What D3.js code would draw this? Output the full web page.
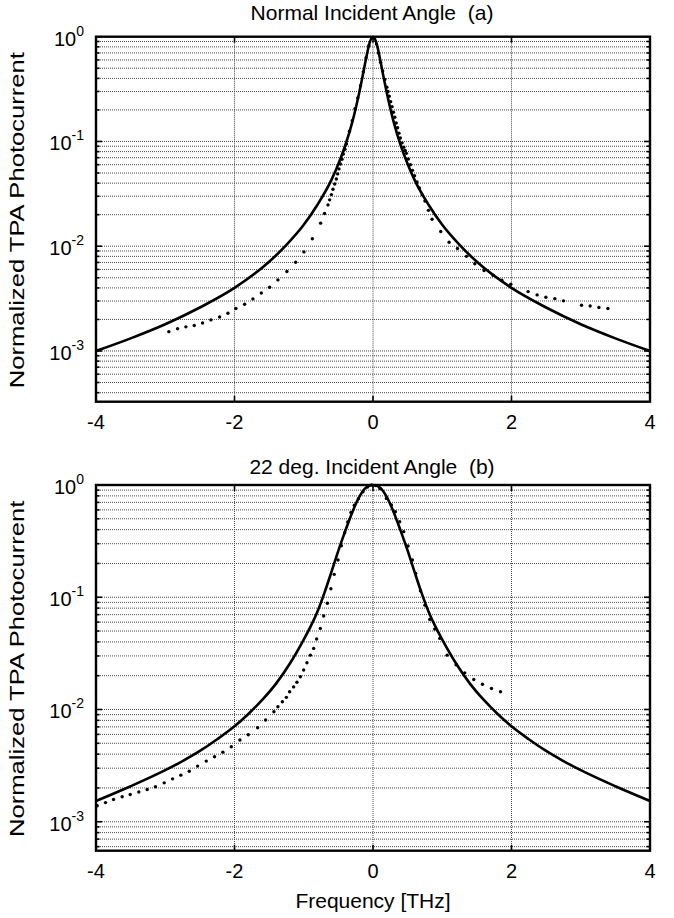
<!DOCTYPE html>
<html><head><meta charset="utf-8">
<script src="https://cdn.jsdelivr.net/npm/d3@7/dist/d3.min.js"></script>
<style>
body{margin:0;background:#fff}
text{font-family:"Liberation Sans",Arial,Helvetica,sans-serif;fill:#000;white-space:pre}
</style>
</head><body>
<svg id="c" width="674" height="918"></svg>
<script>
// ---------- data ----------
const xTicks = [-4, -2, 0, 2, 4];
const yTickExps = [0, -1, -2, -3];
const titleA = "Normal Incident Angle  (a)";
const titleB = "22 deg. Incident Angle  (b)";
const xLabel = "Frequency [THz]";
const yLabel = "Normalized TPA Photocurrent";

// solid fit curve, panel (a)
const fitAX = [-4,-3.5,-3,-2.5,-2,-1.5,-1.25,-1,-0.8,-0.6,-0.5,-0.4,-0.3,-0.2,-0.15,-0.1,-0.05,0,
               0.05,0.1,0.15,0.2,0.3,0.4,0.5,0.6,0.8,1,1.25,1.5,2,2.5,3,3.5,4];
const fitAY = [1.0e-3,1.32e-3,1.8e-3,2.6e-3,4.0e-3,7.1e-3,1.03e-2,1.6e-2,2.5e-2,4.3e-2,6.1e-2,9.2e-2,0.152,0.29,0.42,0.62,0.87,1.0,
               0.87,0.62,0.42,0.29,0.152,9.2e-2,6.1e-2,4.3e-2,2.5e-2,1.6e-2,1.03e-2,7.1e-3,4.0e-3,2.6e-3,1.8e-3,1.32e-3,1.0e-3];

// measured dots, panel (a)
const dotAX = [-2.948,-2.822,-2.702,-2.581,-2.461,-2.341,-2.215,-2.095,-1.980,-1.854,-1.734,-1.613,-1.493,-1.373,-1.243,-1.117,-0.997,-0.876,-0.756,-0.700,
               -0.650,-0.626,-0.601,-0.578,-0.553,-0.529,-0.510,-0.491,-0.471,-0.448,-0.428,-0.405,-0.384,
               -0.34,-0.30,-0.26,-0.22,-0.18,-0.14,-0.10,-0.06,-0.02,
               0.02,0.05,0.08,0.11,0.14,0.17,0.20,0.217,0.235,0.255,0.275,0.295,0.315,0.335,0.355,0.375,0.395,0.42,0.445,0.465,0.482,
               0.51,0.54,0.57,0.60,0.635,0.67,0.71,0.75,0.80,0.853,0.978,1.099,1.22,1.35,1.47,1.604,1.734,1.860,1.990,
               2.240,2.370,2.496,2.626,2.751,3.011,3.136,3.262,3.392];
const dotAY = [1.53e-3,1.63e-3,1.70e-3,1.75e-3,1.85e-3,1.98e-3,2.11e-3,2.29e-3,2.54e-3,2.79e-3,3.14e-3,3.58e-3,4.06e-3,4.77e-3,5.73e-3,7.03e-3,8.83e-3,1.18e-2,1.66e-2,2.05e-2,
               0.0248,0.0277,0.0311,0.0350,0.0393,0.0438,0.0490,0.0547,0.0610,0.0676,0.0760,0.0843,0.0946,
               0.125,0.158,0.205,0.26,0.34,0.46,0.63,0.82,0.97,
               0.96,0.85,0.70,0.57,0.47,0.39,0.33,0.30,0.27,0.24,0.215,0.19,0.17,0.15,0.135,0.12,0.108,0.097,0.088,0.082,0.077,
               0.068,0.060,0.053,0.047,0.041,0.036,0.031,0.027,0.022,0.0181,0.0138,0.0109,0.0095,0.0080,0.0068,5.85e-3,5.28e-3,4.73e-3,4.34e-3,
               3.69e-3,3.43e-3,3.26e-3,3.16e-3,3.01e-3,2.73e-3,2.69e-3,2.60e-3,2.54e-3];

// solid fit curve, panel (b)
const fitBX = [-4,-3.5,-3,-2.75,-2.5,-2.25,-2,-1.8,-1.6,-1.4,-1.2,-1,-0.9,-0.8,-0.7,-0.6,-0.5,-0.4,-0.3,-0.2,-0.1,0,
               0.1,0.2,0.3,0.4,0.5,0.6,0.7,0.8,0.9,1,1.2,1.4,1.6,1.8,2,2.25,2.5,2.75,3,3.5,4];
const fitBY = [1.53e-3,2.07e-3,2.88e-3,3.47e-3,4.27e-3,5.43e-3,7.08e-3,9.12e-3,1.216e-2,1.70e-2,2.57e-2,4.2e-2,5.5e-2,7.5e-2,0.11,0.168,0.26,0.39,0.57,0.78,0.95,1.0,
               0.95,0.78,0.57,0.39,0.26,0.168,0.11,7.5e-2,5.5e-2,4.2e-2,2.57e-2,1.70e-2,1.216e-2,9.12e-3,7.08e-3,5.43e-3,4.27e-3,3.47e-3,2.88e-3,2.07e-3,1.53e-3];

// measured dots, panel (b)
const dotBX = [-3.983,-3.863,-3.747,-3.622,-3.506,-3.382,-3.261,-3.141,-3.015,-2.895,-2.775,-2.653,-2.533,-2.408,-2.288,-2.168,-2.046,-1.922,-1.801,-1.666,
               -1.551,-1.431,-1.373,-1.309,-1.251,-1.204,-1.146,-1.098,-1.049,-1.001,-0.954,-0.905,-0.857,-0.814,-0.760,-0.712,-0.659,-0.608,-0.560,-0.505,
               -0.457,-0.409,-0.365,-0.318,-0.270,-0.210,-0.145,-0.080,-0.020,0.040,0.100,
               0.193,0.266,0.323,0.386,0.444,0.506,0.569,0.617,0.685,0.750,0.819,0.890,0.964,1.070,1.200,1.325,1.455,1.581,1.711,1.841];
const dotBY = [1.39e-3,1.48e-3,1.58e-3,1.67e-3,1.75e-3,1.84e-3,1.94e-3,2.05e-3,2.22e-3,2.41e-3,2.60e-3,2.82e-3,3.13e-3,3.47e-3,3.79e-3,4.17e-3,4.66e-3,5.34e-3,5.95e-3,6.87e-3,
               8.05e-3,9.55e-3,1.057e-2,1.172e-2,1.283e-2,1.44e-2,1.59e-2,1.75e-2,1.96e-2,2.25e-2,2.61e-2,3.05e-2,3.50e-2,4.24e-2,5.28e-2,6.8e-2,8.83e-2,0.119,0.160,0.215,
               0.288,0.376,0.468,0.570,0.660,0.755,0.872,0.960,1.0,0.99,0.93,
               0.760,0.663,0.578,0.471,0.384,0.286,0.215,0.163,0.114,0.085,0.0635,0.052,0.043,0.0305,0.025,0.0212,0.0185,0.0168,0.0154,0.0144];

// ---------- drawing ----------
const svg = d3.select("#c");
const L = 96, R = 650;
const panels = [
  {top: 36.7, bottom: 401.7, yMin: 3.28e-4, fx: fitAX, fy: fitAY, dx: dotAX, dy: dotAY, title: titleA, titleY: 20},
  {top: 485, bottom: 850.7, yMin: 5.52e-4, fx: fitBX, fy: fitBY, dx: dotBX, dy: dotBY, title: titleB, titleY: 474}
];

panels.forEach((p, pi) => {
  const x = d3.scaleLinear().domain([-4, 4]).range([L, R]);
  const y = d3.scaleLog().domain([p.yMin, 1]).range([p.bottom, p.top]);
  const g = svg.append("g");

  const gridY = [];
  for (let e = -4; e <= 0; e++) for (let k = 1; k <= 9; k++) {
    const v = k * Math.pow(10, e);
    if (v >= p.yMin * 0.999 && v <= 1.0001) gridY.push(v);
  }
  g.selectAll(".hg").data(gridY).enter().append("line")
    .attr("x1", L).attr("x2", R).attr("y1", d => y(d)).attr("y2", d => y(d))
    .attr("stroke", "#4a4a4a").attr("stroke-width", 1).attr("stroke-dasharray", "1,1");
  g.selectAll(".vg").data(xTicks.filter(d => d > -4 && d < 4)).enter().append("line")
    .attr("y1", p.top).attr("y2", p.bottom).attr("x1", d => x(d)).attr("x2", d => x(d))
    .attr("stroke", "#4a4a4a").attr("stroke-width", 1).attr("stroke-dasharray", "1,1");

  gridY.forEach(v => {
    const major = Math.abs(Math.log10(v) - Math.round(Math.log10(v))) < 1e-6;
    const len = major ? 6 : 3.5;
    g.append("line").attr("x1", L).attr("x2", L + len).attr("y1", y(v)).attr("y2", y(v)).attr("stroke", "#000").attr("stroke-width", 1.6);
    g.append("line").attr("x1", R).attr("x2", R - len).attr("y1", y(v)).attr("y2", y(v)).attr("stroke", "#000").attr("stroke-width", 1.6);
  });
  xTicks.forEach(t => {
    g.append("line").attr("x1", x(t)).attr("x2", x(t)).attr("y1", p.bottom).attr("y2", p.bottom - 6).attr("stroke", "#000").attr("stroke-width", 1.6);
    g.append("line").attr("x1", x(t)).attr("x2", x(t)).attr("y1", p.top).attr("y2", p.top + 6).attr("stroke", "#000").attr("stroke-width", 1.6);
  });

  const cid = "clip" + pi;
  svg.append("clipPath").attr("id", cid).append("rect")
    .attr("x", L).attr("y", p.top - 2).attr("width", R - L).attr("height", p.bottom - p.top + 2);

  const fit = p.fx.map((v, i) => [v, p.fy[i]]);
  g.append("path").datum(fit)
    .attr("clip-path", `url(#${cid})`)
    .attr("d", d3.line().x(d => x(d[0])).y(d => y(d[1])).curve(d3.curveMonotoneX))
    .attr("fill", "none").attr("stroke", "#000").attr("stroke-width", 2.6).attr("stroke-linejoin", "round");

  const dots = p.dx.map((v, i) => [v, p.dy[i]]);
  g.selectAll(".dot").data(dots).enter().append("circle")
    .attr("cx", d => x(d[0])).attr("cy", d => y(d[1])).attr("r", 1.7).attr("fill", "#000");

  g.append("rect").attr("x", L).attr("y", p.top).attr("width", R - L).attr("height", p.bottom - p.top)
    .attr("fill", "none").attr("stroke", "#000").attr("stroke-width", 2.4);

  xTicks.forEach(t => {
    g.append("text").attr("x", x(t)).attr("y", p.bottom + 27).attr("text-anchor", "middle")
      .attr("font-size", 20).text(t);
  });
  yTickExps.forEach(e => {
    const t = g.append("text").attr("x", L - 12).attr("y", y(Math.pow(10, e)) + 9).attr("text-anchor", "end").attr("font-size", 20);
    t.append("tspan").text("10");
    t.append("tspan").attr("dy", -10).attr("font-size", 14).text(String(e));
  });
  g.append("text").attr("x", (L + R) / 2 - 1).attr("y", p.titleY).attr("text-anchor", "middle").attr("font-size", 21).text(p.title);
  g.append("text").attr("transform", `translate(24,${(p.top + p.bottom) / 2 + 1}) rotate(-90) scale(1.22,1)`)
    .attr("text-anchor", "middle").attr("font-size", 21).text(yLabel);
});

svg.append("text").attr("x", (L + R) / 2).attr("y", 908).attr("text-anchor", "middle").attr("font-size", 21).text(xLabel);
</script>
</body></html>
